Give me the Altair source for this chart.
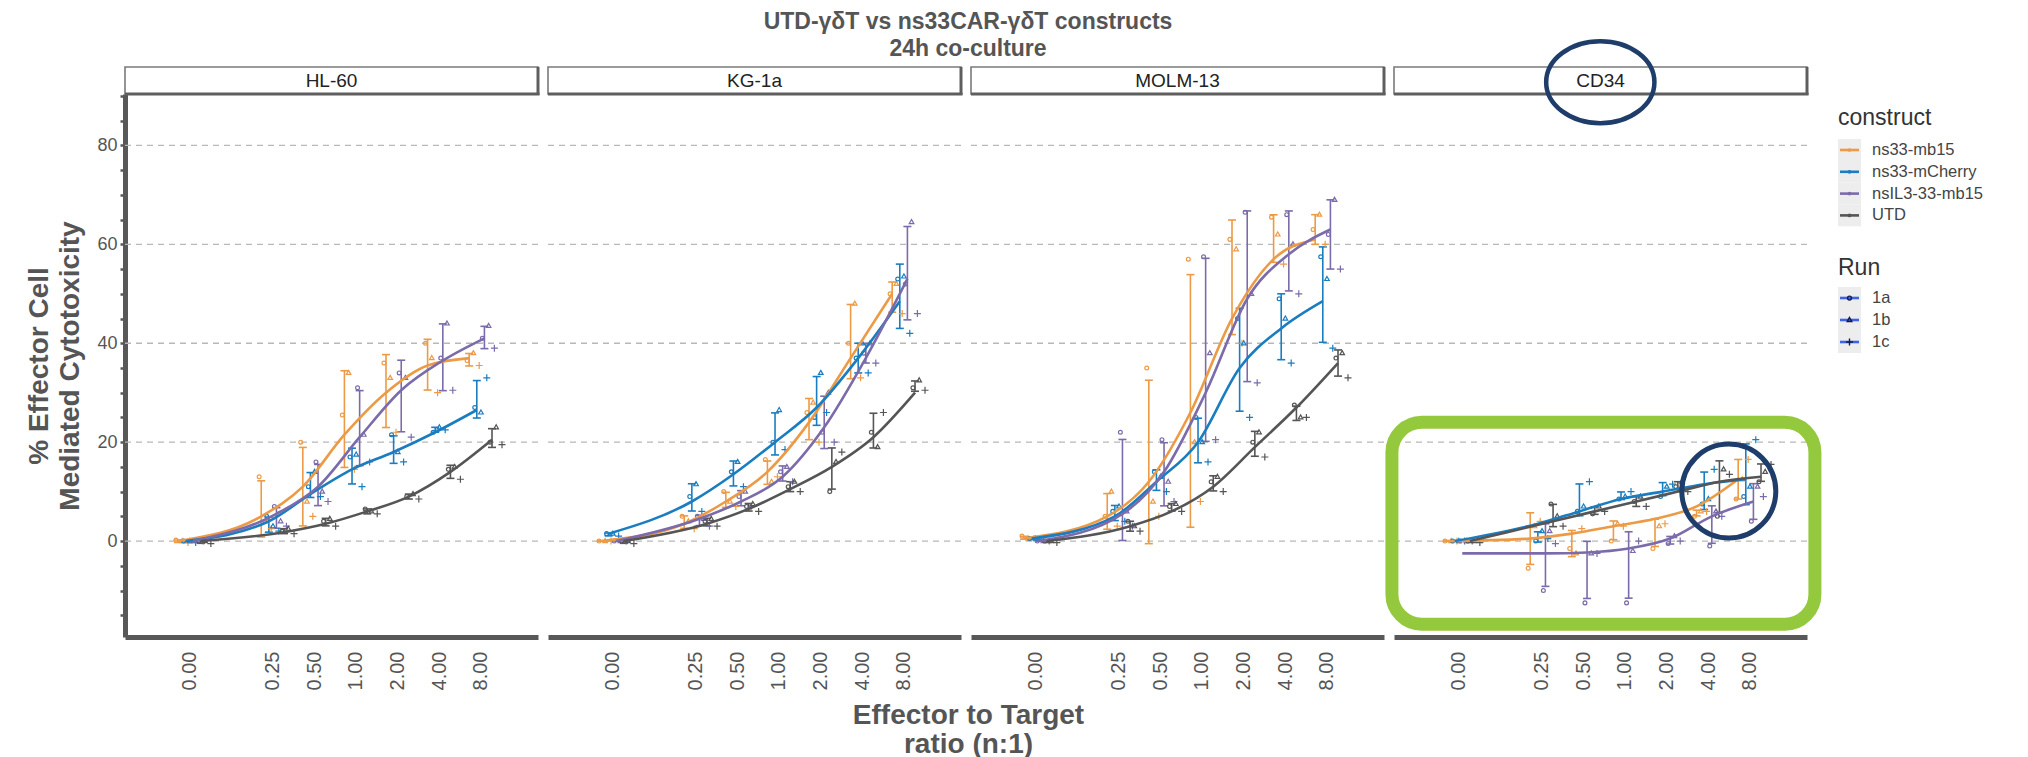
import json
import math
import altair as alt
import pandas as pd

FONT = "Liberation Sans"

# ---------------- data ----------------
panels = ["HL-60", "KG-1a", "MOLM-13", "CD34"]
constructs = ["ns33-mb15", "ns33-mCherry", "nsIL3-33-mb15", "UTD"]
construct_colors = ["#EC9A45", "#1A7DC0", "#7B6BAA", "#555555"]
runs = ["1a", "1b", "1c"]
ratios = [0, 0.25, 0.5, 1, 2, 4, 8]
ratio_labels = ["0.00", "0.25", "0.50", "1.00", "2.00", "4.00", "8.00"]
grid_values = [0, 20, 40, 60, 80]
y_tick_values = list(range(-15, 95, 5))
title_lines = ["UTD-γδT vs ns33CAR-γδT constructs", "24h co-culture"]
x_title = ["Effector to Target", "ratio (n:1)"]
y_title = ["% Effector Cell", "Mediated Cytotoxicity"]

# smoothed (loess) curves, one value per E:T ratio
hl60_mb15_fit = [0, 5, 11, 21.5, 30, 35.5, 37]
hl60_mcherry_fit = [0, 4, 9.5, 14.5, 18, 22, 26.5]
hl60_il3_fit = [0, 5.5, 11, 21, 30.5, 36.5, 41]
hl60_utd_fit = [0, 1.8, 3.5, 6, 9, 14, 20.5]
kg1a_mb15_fit = [0, 3.5, 8, 14, 24, 37, 50]
kg1a_mcherry_fit = [1.5, 8, 13.5, 20, 27, 37, 48.5]
kg1a_il3_fit = [0, 4.5, 8, 13, 23, 37, 53]
kg1a_utd_fit = [0, 3.5, 6.5, 10.5, 15, 21, 30]
molm13_mb15_fit = [0.5, 5, 12, 26, 45, 57, 61]
molm13_mcherry_fit = [0.5, 5, 12, 20, 35, 43, 48.5]
molm13_il3_fit = [0, 5.5, 14, 30, 49, 58, 63]
molm13_utd_fit = [0, 3, 6, 11, 19, 27, 36]
cd34_mb15_fit = [0, 0.5, 1.5, 3, 4.5, 7, 12.5]
cd34_mcherry_fit = [0, 3.5, 6, 8.5, 10, 11.5, 12.5]
cd34_il3_fit = [-2.5, -2.5, -2.3, -1.5, 0.5, 5, 8]
cd34_utd_fit = [0, 4, 6, 8, 10, 12, 13]

# individual runs (1a, 1b, 1c)
hl60_mb15_1a = [0.2, 13, 20, 25.5, 36, 40, 36.5]
hl60_mb15_1b = [0, 4, 8, 34, 33, 37, 38]
hl60_mb15_1c = [-0.3, 2.5, 5, 14.5, 22, 30, 35.5]
hl60_mcherry_1a = [0, 5, 11, 17, 21.5, 22, 27]
hl60_mcherry_1b = [0, 3, 14, 17.5, 18, 23, 26]
hl60_mcherry_1c = [-0.3, 2, 9, 11, 16, 22.5, 33]
hl60_il3_1a = [0, 7, 16, 31, 34, 37, 41]
hl60_il3_1b = [0, 4, 10, 21.5, 33, 44, 43.5]
hl60_il3_1c = [0, 3, 8, 16, 21, 30.5, 39]
hl60_utd_1a = [0, 2, 4, 6.5, 9, 14.5, 20]
hl60_utd_1b = [0, 2.5, 4.5, 6, 9.5, 15, 23]
hl60_utd_1c = [-0.5, 1.5, 3, 5.5, 8.5, 12.5, 19.5]

kg1a_mb15_1a = [0, 5, 10, 16.5, 26, 40, 50]
kg1a_mb15_1b = [0, 4, 8, 12, 28, 48, 52]
kg1a_mb15_1c = [0, 2.5, 7, 13, 20, 33, 46]
kg1a_mcherry_1a = [1.5, 9, 14, 20, 25, 37, 53]
kg1a_mcherry_1b = [1.5, 11.5, 16, 26.5, 34, 40, 53.5]
kg1a_mcherry_1c = [1, 6, 11, 18.5, 26, 34, 42]
kg1a_il3_1a = [0, 5, 9, 14, 22, 38, 52]
kg1a_il3_1b = [0, 4.5, 10, 15, 30, 40, 64.5]
kg1a_il3_1c = [0, 3, 7, 12, 20, 36, 46]
kg1a_utd_1a = [0, 4, 7, 11, 10, 22, 31]
kg1a_utd_1b = [0, 4.5, 7.5, 12, 16, 19, 32.5]
kg1a_utd_1c = [-0.5, 3, 6, 10, 18, 26, 30.5]

molm13_mb15_1a = [1, 5, 35, 57, 61, 65.5, 63]
molm13_mb15_1b = [0.5, 10, 8, 20, 59, 62, 66]
molm13_mb15_1c = [0.5, 3, 5, 8, 40, 56, 60]
molm13_mcherry_1a = [0.5, 6, 14, 25, 45, 49, 57.5]
molm13_mcherry_1b = [0.5, 7, 13, 20, 40, 45, 53]
molm13_mcherry_1c = [0.3, 4, 10, 16, 25, 36, 39]
molm13_il3_1a = [0, 22, 20.5, 57.5, 66.5, 66, 62]
molm13_il3_1b = [0, 6, 12, 38, 50, 60, 69]
molm13_il3_1c = [0, 3, 8, 20.5, 32, 50, 55]
molm13_utd_1a = [0, 4, 7, 12, 20, 27.5, 37]
molm13_utd_1b = [0, 3, 7.5, 13, 22, 25, 38]
molm13_utd_1c = [-0.3, 2, 6, 10, 17, 25, 33]

cd34_mb15_1a = [0, -5.5, -1.5, 0, -1.5, 5, 8.5]
cd34_mb15_1b = [0, 3, -2.5, 3.5, 3, 6, 12.5]
cd34_mb15_1c = [0, 4, 2.5, 3, 3.5, 6, 16.5]
cd34_mcherry_1a = [0, 0, 6, 8.5, 9, 7.5, 9]
cd34_mcherry_1b = [0, 2, 7, 9, 11, 8.5, 11]
cd34_mcherry_1c = [0, 0.5, 12, 10, 11.5, 14.5, 20.5]
cd34_il3_1a = [0, -10, -12.5, -12.5, -0.5, -1, 4]
cd34_il3_1b = [0, 2, -2.5, -2, 1, 6, 11]
cd34_il3_1c = [0, -0.5, -2.5, 0, 0, 5, 9]
cd34_utd_1a = [0, 7.5, 5.5, 8, 11, 5, 12]
cd34_utd_1b = [0, 5, 7, 9, 12, 14.5, 14]
cd34_utd_1c = [-0.3, 3, 6, 7, 10, 13.5, 15.5]

fits = {
    ("HL-60", "ns33-mb15"): hl60_mb15_fit, ("HL-60", "ns33-mCherry"): hl60_mcherry_fit,
    ("HL-60", "nsIL3-33-mb15"): hl60_il3_fit, ("HL-60", "UTD"): hl60_utd_fit,
    ("KG-1a", "ns33-mb15"): kg1a_mb15_fit, ("KG-1a", "ns33-mCherry"): kg1a_mcherry_fit,
    ("KG-1a", "nsIL3-33-mb15"): kg1a_il3_fit, ("KG-1a", "UTD"): kg1a_utd_fit,
    ("MOLM-13", "ns33-mb15"): molm13_mb15_fit, ("MOLM-13", "ns33-mCherry"): molm13_mcherry_fit,
    ("MOLM-13", "nsIL3-33-mb15"): molm13_il3_fit, ("MOLM-13", "UTD"): molm13_utd_fit,
    ("CD34", "ns33-mb15"): cd34_mb15_fit, ("CD34", "ns33-mCherry"): cd34_mcherry_fit,
    ("CD34", "nsIL3-33-mb15"): cd34_il3_fit, ("CD34", "UTD"): cd34_utd_fit,
}
run_values = {
    ("HL-60", "ns33-mb15"): [hl60_mb15_1a, hl60_mb15_1b, hl60_mb15_1c],
    ("HL-60", "ns33-mCherry"): [hl60_mcherry_1a, hl60_mcherry_1b, hl60_mcherry_1c],
    ("HL-60", "nsIL3-33-mb15"): [hl60_il3_1a, hl60_il3_1b, hl60_il3_1c],
    ("HL-60", "UTD"): [hl60_utd_1a, hl60_utd_1b, hl60_utd_1c],
    ("KG-1a", "ns33-mb15"): [kg1a_mb15_1a, kg1a_mb15_1b, kg1a_mb15_1c],
    ("KG-1a", "ns33-mCherry"): [kg1a_mcherry_1a, kg1a_mcherry_1b, kg1a_mcherry_1c],
    ("KG-1a", "nsIL3-33-mb15"): [kg1a_il3_1a, kg1a_il3_1b, kg1a_il3_1c],
    ("KG-1a", "UTD"): [kg1a_utd_1a, kg1a_utd_1b, kg1a_utd_1c],
    ("MOLM-13", "ns33-mb15"): [molm13_mb15_1a, molm13_mb15_1b, molm13_mb15_1c],
    ("MOLM-13", "ns33-mCherry"): [molm13_mcherry_1a, molm13_mcherry_1b, molm13_mcherry_1c],
    ("MOLM-13", "nsIL3-33-mb15"): [molm13_il3_1a, molm13_il3_1b, molm13_il3_1c],
    ("MOLM-13", "UTD"): [molm13_utd_1a, molm13_utd_1b, molm13_utd_1c],
    ("CD34", "ns33-mb15"): [cd34_mb15_1a, cd34_mb15_1b, cd34_mb15_1c],
    ("CD34", "ns33-mCherry"): [cd34_mcherry_1a, cd34_mcherry_1b, cd34_mcherry_1c],
    ("CD34", "nsIL3-33-mb15"): [cd34_il3_1a, cd34_il3_1b, cd34_il3_1c],
    ("CD34", "UTD"): [cd34_utd_1a, cd34_utd_1b, cd34_utd_1c],
}

fit_rows, pt_rows = [], []
for (p, c), vals in fits.items():
    for r, v in zip(ratios, vals):
        fit_rows.append({"panel": p, "construct": c, "ratio": r, "value": v})
for (p, c), lists in run_values.items():
    for run, vals in zip(runs, lists):
        for r, v in zip(ratios, vals):
            pt_rows.append({"panel": p, "construct": c, "run": run, "ratio": r, "value": v})
fit_df = pd.DataFrame(fit_rows)
pt_df = pd.DataFrame(pt_rows)
grid_df = pd.DataFrame({"g": grid_values})

# ---------------- layout / style ----------------
W, H = 413, 543
HEAD = 27
GAP = 10
DODGE = 0.183
run_offsets = [-0.05, 0.1, 0.24]
ZERO_POS = -4
tick_u = [ZERO_POS if r == 0 else math.log2(r) for r in ratios]

U_EXPR = f"datum.ratio == 0 ? {ZERO_POS} : log(datum.ratio) / LN2"
XBAR_EXPR = f"datum.u + (indexof({json.dumps(constructs)}, datum.construct) - 1.5) * {DODGE}"
XPT_EXPR = f"datum.xbar + {json.dumps(run_offsets)}[indexof({json.dumps(runs)}, datum.run)]"
XLAB_EXPR = f"{json.dumps(ratio_labels)}[indexof({json.dumps(tick_u)}, datum.value)]"

xscale = alt.Scale(domain=[-5.55, 4.38], nice=False, zero=False)
yscale = alt.Scale(domain=[-19.4, 90.4], nice=False, zero=False)
cscale = alt.Scale(domain=constructs, range=construct_colors)
shape_paths = [
    "M-0.55,0A0.55,0.55 0 1,0 0.55,0A0.55,0.55 0 1,0 -0.55,0",
    "M0,-0.72L0.66,0.44L-0.66,0.44Z",
    "M-1,0H1M0,-1V1",
]
sscale = alt.Scale(domain=runs, range=shape_paths)
AX = "#585858"
TXT = "#555555"


def make_axes(first, xtitle):
    common = dict(domainColor=AX, domainWidth=5, grid=False, labelFont=FONT,
                  labelColor=TXT, titleFont=FONT, titleColor=TXT,
                  titleFontSize=28, titleFontWeight="bold")
    xkw = dict(values=tick_u, labelExpr=XLAB_EXPR, labelAngle=270, ticks=False,
               labelPadding=14, labelFontSize=20, **common)
    if xtitle:
        xax = alt.Axis(title=x_title, titleX=W + GAP / 2 + 2, titleY=64, titleBaseline="top",
                       titleAnchor="middle", titleAlign="center", titleLineHeight=29, **xkw)
    else:
        xax = alt.Axis(title=None, **xkw)
    if first:
        yax = alt.Axis(values=y_tick_values,
                       labelExpr="datum.value % 20 == 0 ? datum.label : ''",
                       tickSize=5, tickWidth=2.5, tickColor=AX, labelPadding=3, labelFontSize=18,
                       title=y_title, titlePadding=12, titleLineHeight=31,
                       **common)
    else:
        yax = None
    return xax, yax


def make_panel(name, first=False, xtitle=False, annotate=False, main_title=False):
    xax, yax = make_axes(first, xtitle)

    def X(f):
        return alt.X(f"{f}:Q", scale=xscale, axis=xax)

    def Y(f):
        return alt.Y(f"{f}:Q", scale=yscale, axis=yax)

    color = alt.Color("construct:N", scale=cscale, legend=None)
    flt = alt.datum.panel == name

    head_df = pd.DataFrame({"panel": [name]})
    head_rect = alt.Chart(head_df).mark_rect(fill="white", stroke="#7a7a7a", strokeWidth=1.6).encode(
        x=alt.value(0), x2=alt.value(W), y=alt.value(-HEAD), y2=alt.value(0))
    head_shadow_r = alt.Chart(head_df).mark_rule(color="#5e5e5e", strokeWidth=3).encode(
        x=alt.value(W), y=alt.value(-HEAD), y2=alt.value(1))
    head_shadow_b = alt.Chart(head_df).mark_rule(color="#5e5e5e", strokeWidth=3).encode(
        x=alt.value(0), x2=alt.value(W + 1.5), y=alt.value(0))
    head_text = alt.Chart(head_df).mark_text(font=FONT, fontSize=19, color="#222222").encode(
        text="panel:N", x=alt.value(W / 2), y=alt.value(-HEAD / 2))

    grid = alt.Chart(grid_df).mark_rule(strokeDash=[6, 5], color="#b8b8b8", strokeWidth=1.3).encode(
        y=Y("g"))

    eb = (alt.Chart(pt_df).transform_filter(flt)
          .transform_aggregate(m="mean(value)", sd="stdev(value)", groupby=["panel", "construct", "ratio"])
          .transform_calculate(lo="datum.m - datum.sd", hi="datum.m + datum.sd", u=U_EXPR)
          .transform_calculate(xbar=XBAR_EXPR))
    rules = eb.mark_rule(strokeWidth=1.6).encode(x=X("xbar"), y=Y("lo"), y2="hi:Q", color=color)
    caps = eb.transform_fold(["lo", "hi"], as_=["end", "yv"]).mark_tick(
        orient="horizontal", size=8, thickness=1.6, opacity=1).encode(x=X("xbar"), y=Y("yv"), color=color)

    pts = (alt.Chart(pt_df).transform_filter(flt)
           .transform_calculate(u=U_EXPR).transform_calculate(xbar=XBAR_EXPR)
           .transform_calculate(xp=XPT_EXPR)
           .mark_point(filled=False, size=49, strokeWidth=1.2, opacity=1)
           .encode(x=X("xp"), y=Y("value"), color=color,
                   shape=alt.Shape("run:N", scale=sscale, legend=None)))

    lines = (alt.Chart(fit_df).transform_filter(flt).transform_calculate(u=U_EXPR)
             .transform_calculate(xbar=XBAR_EXPR)
             .mark_line(strokeWidth=2.6, interpolate="monotone")
             .encode(x=X("xbar"), y=Y("value"), color=color))

    layers = [head_rect, head_shadow_r, head_shadow_b, head_text, grid, rules, caps, pts, lines]

    if main_title:
        for k, line in enumerate(title_lines):
            tdf = pd.DataFrame({"t": [line]})
            layers.append(alt.Chart(tdf).mark_text(
                font=FONT, fontSize=23, fontWeight="bold", color=TXT, baseline="middle").encode(
                text="t:N", x=alt.value(W + GAP / 2 + 2), y=alt.value(-72.5 + 27 * k)))

    if annotate:
        one = pd.DataFrame({"a": [0]})
        green = alt.Chart(one).mark_rect(fillOpacity=0, stroke="#95C93D", strokeWidth=13,
                                         cornerRadius=30).encode(
            x=alt.datum(-5.6), x2=alt.datum(4.57), y=alt.datum(24.0), y2=alt.datum(-16.8))
        ring = alt.Chart(one).mark_point(
            shape="M-1,0A1,1 0 1,0 1,0A1,1 0 1,0 -1,0", size=94 * 94, filled=False,
            stroke="#1E3D6B", strokeWidth=5, opacity=1).encode(x=alt.datum(2.5), y=alt.datum(10.1))
        head_ring = alt.Chart(one).mark_point(
            shape="M-1.32,0A1.32,1 0 1,0 1.32,0A1.32,1 0 1,0 -1.32,0", size=82 * 82, filled=False,
            stroke="#1E3D6B", strokeWidth=4.5, opacity=1).encode(x=alt.datum(-0.59), y=alt.datum(92.8))
        layers += [green, ring, head_ring]

    return alt.layer(*layers).properties(width=W, height=H)


# ---------------- manual legend ----------------
LW = 190
LX = 21
ly = alt.Scale(domain=[0, H], range=[0, H])
leg_c = pd.DataFrame({"construct": constructs, "i": list(range(len(constructs)))})
leg_r = pd.DataFrame({"run": runs, "i": list(range(len(runs)))})

c_base = alt.Chart(leg_c).transform_calculate(yy="56 + datum.i * 21.8").transform_calculate(
    y0="datum.yy - 10.9", y1="datum.yy + 10.9")
r_base = alt.Chart(leg_r).transform_calculate(yy="204 + datum.i * 22").transform_calculate(
    y0="datum.yy - 11", y1="datum.yy + 11")


def LY(f):
    return alt.Y(f"{f}:Q", scale=ly, axis=None)


LEG_FS = 16.5
leg_layers = []
for base in (c_base, r_base):
    leg_layers.append(base.mark_rect(fill="#EDEDED").encode(
        x=alt.value(LX), x2=alt.value(LX + 23), y=LY("y0"), y2="y1:Q"))
leg_layers.append(c_base.mark_rule(strokeWidth=2.6).encode(
    x=alt.value(LX + 2), x2=alt.value(LX + 21), y=LY("yy"),
    color=alt.Color("construct:N", scale=cscale, legend=None)))
leg_layers.append(c_base.mark_point(filled=True, size=14, opacity=1).encode(
    x=alt.value(LX + 11.5), y=LY("yy"), color=alt.Color("construct:N", scale=cscale, legend=None)))
leg_layers.append(c_base.mark_text(align="left", baseline="middle", font=FONT, fontSize=LEG_FS,
                                   color="#444444").encode(x=alt.value(LX + 34), y=LY("yy"), text="construct:N"))
leg_layers.append(r_base.mark_rule(strokeWidth=2.6, color="#3E63E6").encode(
    x=alt.value(LX + 2), x2=alt.value(LX + 21), y=LY("yy")))
leg_layers.append(r_base.mark_point(filled=False, size=49, strokeWidth=1.4, color="#151a4a", opacity=1).encode(
    x=alt.value(LX + 11.5), y=LY("yy"), shape=alt.Shape("run:N", scale=sscale, legend=None)))
leg_layers.append(r_base.mark_text(align="left", baseline="middle", font=FONT, fontSize=LEG_FS,
                                   color="#444444").encode(x=alt.value(LX + 34), y=LY("yy"), text="run:N"))
title_df = pd.DataFrame({"t": ["construct", "Run"], "yy": [24, 174]})
leg_layers.append(alt.Chart(title_df).mark_text(align="left", baseline="middle", font=FONT, fontSize=23,
                                                color="#333333").encode(x=alt.value(LX), y=LY("yy"), text="t:N"))
legend_view = alt.layer(*leg_layers).properties(width=LW, height=H)

# ---------------- compose ----------------
chart = alt.hconcat(
    make_panel("HL-60", first=True),
    make_panel("KG-1a", xtitle=True, main_title=True),
    make_panel("MOLM-13"),
    make_panel("CD34", annotate=True),
    legend_view,
    spacing=GAP,
    bounds="flush",
).resolve_scale(x="independent", y="independent").properties(
    padding={"left": 17, "top": 2, "right": 5, "bottom": 2},
).configure(font=FONT).configure_view(stroke=None)

chart.save("out.html", embed_options={"renderer": "svg", "actions": False})
